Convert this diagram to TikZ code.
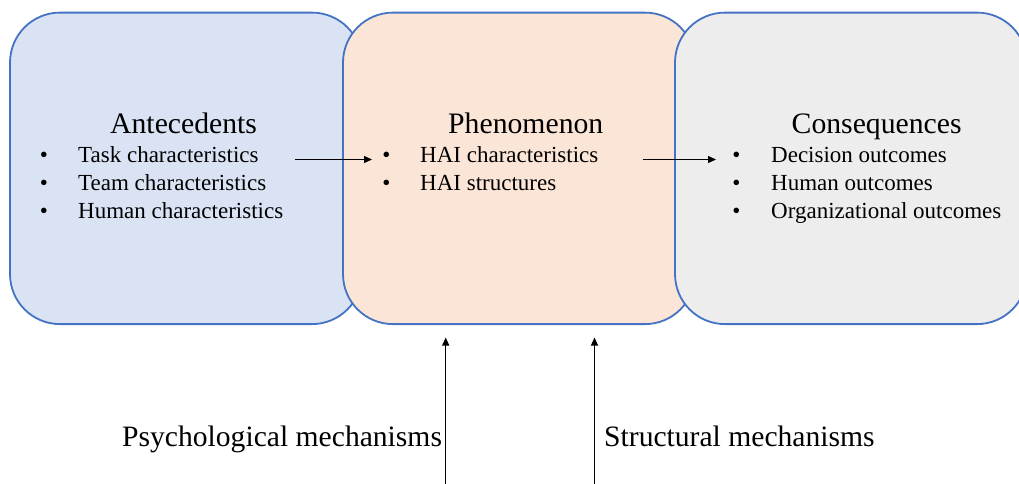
\documentclass[tikz,border=0pt]{standalone}
\usepackage{fontspec}
\setmainfont{LiberationSerif-Regular.ttf}
\usetikzlibrary{arrows.meta}

\definecolor{edgeblue}{HTML}{4472C4}
\definecolor{fillblue}{HTML}{DAE3F3}
\definecolor{fillpeach}{HTML}{FBE5D6}
\definecolor{fillgrey}{HTML}{EDEDED}

\tikzset{
  stage/.style={draw=edgeblue, line width=1.8pt, rounded corners=50pt,
    minimum width=352pt, minimum height=311.5pt, inner sep=0pt},
  title/.style={anchor=base west, inner sep=0pt, font=\fontsize{29.7}{32}\selectfont},
  item/.style={anchor=base west, inner sep=0pt, font=\fontsize{23}{28}\selectfont},
  bullet/.style={anchor=base, inner sep=0pt, font=\fontsize{23}{28}\selectfont},
  label/.style={anchor=base west, inner sep=0pt, font=\fontsize{29.6}{32}\selectfont},
  link/.style={line width=1.1pt, -{Triangle[length=8pt,width=7pt]}}
}

\begin{document}
\begin{tikzpicture}[x=1pt, y=-1pt]
  \useasboundingbox (0,0) rectangle (1019,483);
  \clip (0,0) rectangle (1019,483);

  % the three stages, each laid over the previous one
  \node[stage, fill=fillblue]  (ante) at (186,168.35) {};
  \node[stage, fill=fillpeach] (phen) at (519,168.35) {};
  \node[stage, fill=fillgrey]  (cons) at (851,168.35) {};

  % Antecedents
  \node[title] (anteT) at (110,133) {Antecedents};
  \node[bullet] (ab1) at (44,162.7) {•};
  \node[bullet] (ab2) at (44,190.7) {•};
  \node[bullet] (ab3) at (44,218.5) {•};
  \node[item] (a1) at (78,162.7) {Task characteristics};
  \node[item] (a2) at (78,190.7) {Team characteristics};
  \node[item] (a3) at (78,218.5) {Human characteristics};

  % Phenomenon
  \node[title] (phenT) at (448,133) {Phenomenon};
  \node[bullet] (pb1) at (386.5,162.7) {•};
  \node[bullet] (pb2) at (386.5,190.7) {•};
  \node[item] (p1) at (420,162.7) {HAI characteristics};
  \node[item] (p2) at (420,190.7) {HAI structures};

  % Consequences
  \node[title] (consT) at (791.5,133) {Consequences};
  \node[bullet] (cb1) at (736.5,162.7) {•};
  \node[bullet] (cb2) at (736.5,190.7) {•};
  \node[bullet] (cb3) at (736.5,218.5) {•};
  \node[item] (c1) at (771,162.7) {Decision outcomes};
  \node[item] (c2) at (771,190.7) {Human outcomes};
  \node[item] (c3) at (771,218.5) {Organizational outcomes};

  % mechanism labels
  \node[label] (psy) at (122,446.7) {Psychological mechanisms};
  \node[label] (str) at (604,446.7) {Structural mechanisms};

  % flow between the stages
  \coordinate (f1s) at (295,159.5);
  \coordinate (f1e) at (372,159.5);
  \coordinate (f2s) at (643,159.5);
  \coordinate (f2e) at (716,159.5);
  \draw[link] (f1s) -- (f1e);
  \draw[link] (f2s) -- (f2e);

  % mechanisms acting on the phenomenon
  \coordinate (m1s) at (445.7,485);
  \coordinate (m1e) at (445.7,337.5);
  \coordinate (m2s) at (594.5,485);
  \coordinate (m2e) at (594.5,337.5);
  \draw[link] (m1s) -- (m1e);
  \draw[link] (m2s) -- (m2e);
\end{tikzpicture}
\end{document}
